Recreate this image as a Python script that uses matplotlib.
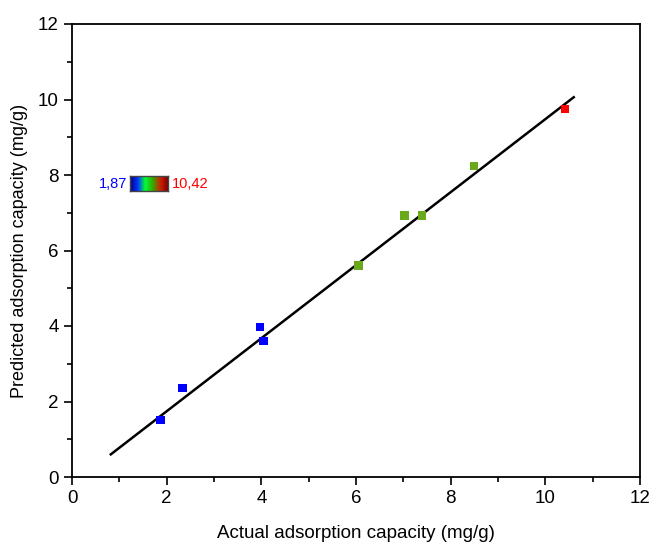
import matplotlib
matplotlib.use("Agg")
import matplotlib.pyplot as plt
import numpy as np
from matplotlib.colors import LinearSegmentedColormap
from matplotlib.ticker import MultipleLocator

plt.rcParams['font.family'] = ['Liberation Sans', 'DejaVu Sans']

# data
actual = [1.87, 2.33, 3.97, 4.04, 6.05, 7.02, 7.39, 8.49, 10.42]
predicted = [1.51, 2.36, 3.97, 3.60, 5.60, 6.93, 6.93, 8.24, 9.75]
point_colors = ['#0000ff', '#0000ff', '#0000ff', '#0000ff',
                '#6aa81c', '#6aa81c', '#6aa81c', '#6aa81c', '#ff0000']
fit_x = [0.82, 10.60]
fit_y = [0.60, 10.06]
cbar_min, cbar_max = '1,87', '10,42'

fig = plt.figure(figsize=(6.49, 5.43), dpi=100)
ax = fig.add_axes([72/649, 66/543, 568/649, 453/543])

ax.plot(fit_x, fit_y, color='black', lw=1.8, zorder=2)
ax.scatter(actual, predicted, c=point_colors, marker='s', s=38, linewidths=0, zorder=3)

ax.set_xlim(0, 12)
ax.set_ylim(0, 12)
ax.xaxis.set_major_locator(MultipleLocator(2))
ax.xaxis.set_minor_locator(MultipleLocator(1))
ax.yaxis.set_major_locator(MultipleLocator(2))
ax.yaxis.set_minor_locator(MultipleLocator(1))
ax.tick_params(which='major', direction='out', length=6, width=1.2, labelsize=13.5)
ax.tick_params(which='minor', direction='out', length=3.5, width=1.2)
for s in ax.spines.values():
    s.set_linewidth(1.3)

ax.set_xlabel('Actual adsorption capacity (mg/g)', fontsize=13.5, labelpad=13)
ax.set_ylabel('Predicted adsorption capacity (mg/g)', fontsize=13, labelpad=7)

# little colour scale inset
cmap = LinearSegmentedColormap.from_list('bgr', ['#000080', '#0033ff', '#00ff33', '#33aa00', '#cc2200', '#800000'])
cax = fig.add_axes([130/649, (543-191)/543, 38/649, 15/543])
cax.imshow(np.linspace(0, 1, 100)[None, :], aspect='auto', cmap=cmap)
cax.set_xticks([])
cax.set_yticks([])
for s in cax.spines.values():
    s.set_linewidth(1.0)
    s.set_color('#444444')
fig.text(127/649, (543-184)/543, cbar_min, color='#0000ff', fontsize=10.5, ha='right', va='center')
fig.text(172/649, (543-184)/543, cbar_max, color='#ff0000', fontsize=10.5, ha='left', va='center')

fig.savefig('out.png', dpi=100)
